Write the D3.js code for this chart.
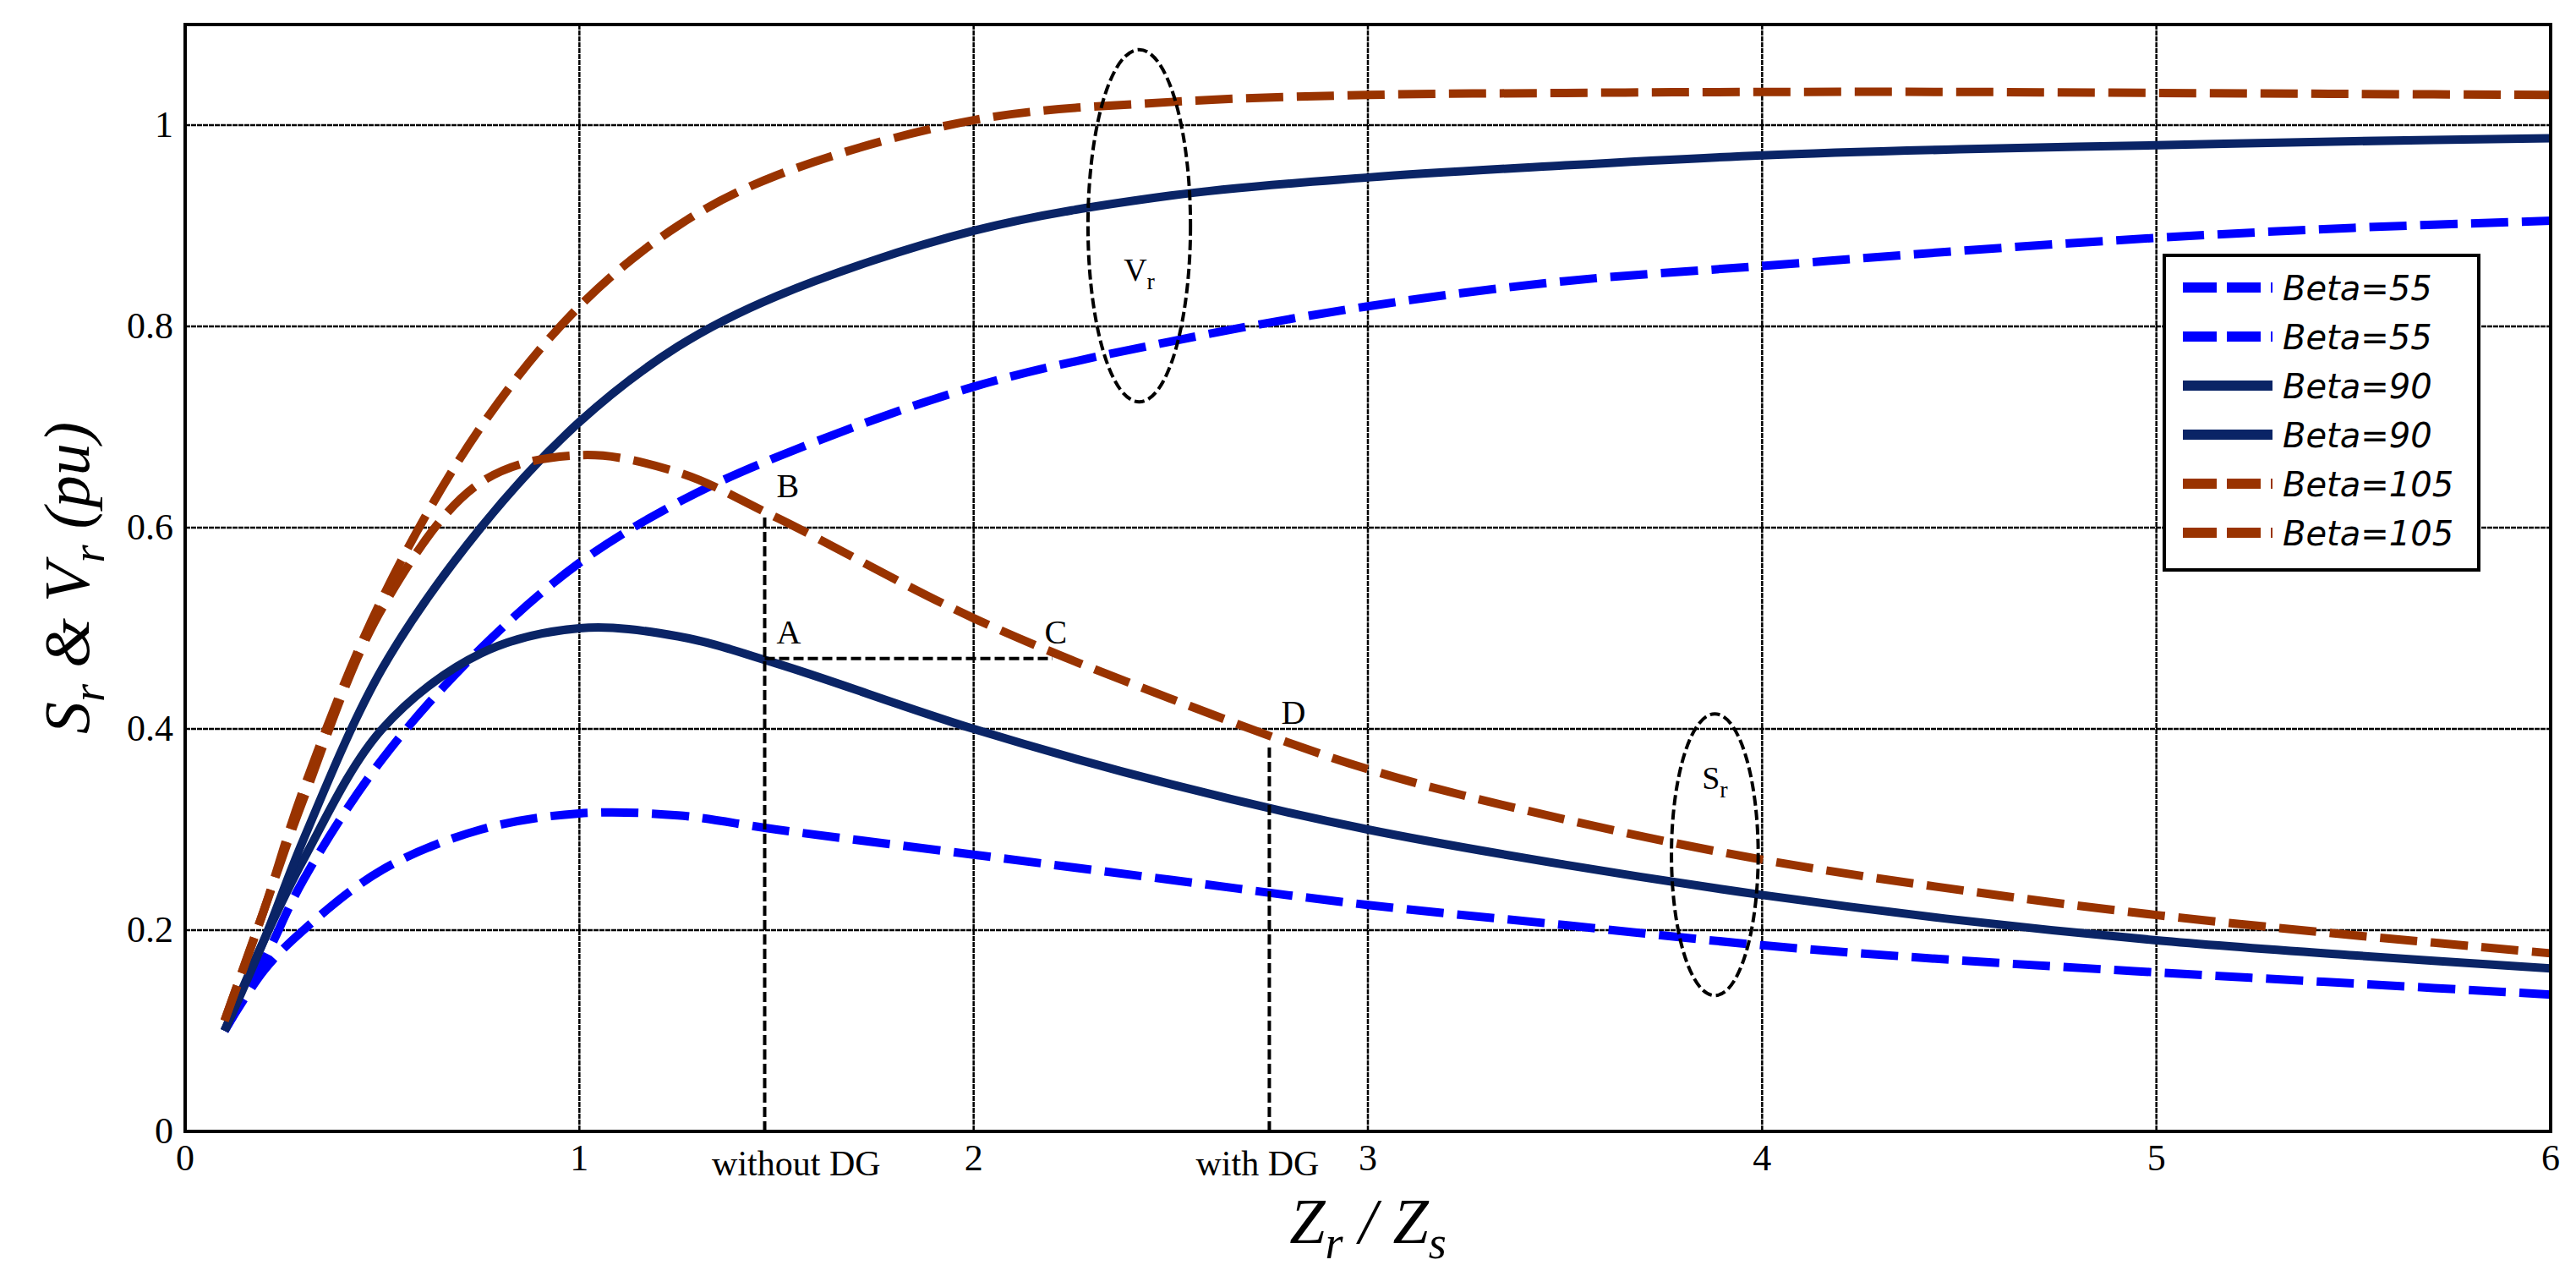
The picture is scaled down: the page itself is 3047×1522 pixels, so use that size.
<!DOCTYPE html>
<html><head><meta charset="utf-8">
<script src="https://cdn.jsdelivr.net/npm/d3@7"></script>
<style>body{margin:0;background:#fff}</style>
</head><body>
<svg id="chart" width="3047" height="1522"></svg>
<script>
// data
const xs = [0.1, 0.2, 0.3, 0.5, 0.75, 1, 1.25, 1.5, 2, 2.5, 3, 3.5, 4, 4.5, 5, 5.5, 6];
const sr55  = [0.10, 0.16, 0.20, 0.26, 0.30, 0.316, 0.314, 0.30, 0.275, 0.25, 0.225, 0.205, 0.185, 0.17, 0.158, 0.147, 0.136];
const vr55  = [0.10, 0.17, 0.25, 0.37, 0.48, 0.565, 0.625, 0.67, 0.74, 0.785, 0.82, 0.845, 0.86, 0.875, 0.888, 0.898, 0.905];
const sr90  = [0.10, 0.19, 0.27, 0.40, 0.475, 0.50, 0.492, 0.465, 0.40, 0.345, 0.30, 0.265, 0.235, 0.21, 0.19, 0.175, 0.162];
const vr90  = [0.10, 0.19, 0.29, 0.46, 0.60, 0.705, 0.78, 0.83, 0.895, 0.93, 0.948, 0.96, 0.97, 0.976, 0.98, 0.984, 0.987];
const sr105 = [0.11, 0.22, 0.33, 0.52, 0.645, 0.672, 0.655, 0.61, 0.51, 0.43, 0.36, 0.31, 0.27, 0.24, 0.215, 0.195, 0.177];
const vr105 = [0.11, 0.22, 0.34, 0.53, 0.70, 0.82, 0.90, 0.95, 1.005, 1.023, 1.03, 1.032, 1.033, 1.033, 1.032, 1.031, 1.03];
const xTicks = [0, 1, 2, 3, 4, 5, 6];
const yTicks = [0, 0.2, 0.4, 0.6, 0.8, 1];
const legendLabels = ['Beta=55', 'Beta=55', 'Beta=90', 'Beta=90', 'Beta=105', 'Beta=105'];

const series = [
  {vals: sr55, color: '#0000ff', dash: '44,16'},
  {vals: vr55, color: '#0000ff', dash: '44,16'},
  {vals: sr90, color: '#0a2466', dash: null},
  {vals: vr90, color: '#0a2466', dash: null},
  {vals: sr105, color: '#993300', dash: '44,16'},
  {vals: vr105, color: '#993300', dash: '44,16'}
];

const m = {l: 219, r: 3017, t: 29, b: 1338};
const svg = d3.select('#chart');
const x = d3.scaleLinear().domain([0, 6]).range([m.l, m.r]);
const y = d3.scaleLinear().domain([0, 1.1]).range([m.b, m.t]);

// grid
svg.append('g').selectAll('line').data(xTicks.slice(1, -1)).join('line')
  .attr('x1', d => x(d)).attr('x2', d => x(d)).attr('y1', m.t).attr('y2', m.b)
  .attr('stroke', '#000').attr('stroke-width', 2.5).attr('stroke-dasharray', '6,1');
svg.append('g').selectAll('line').data(yTicks.slice(1)).join('line')
  .attr('x1', m.l).attr('x2', m.r).attr('y1', d => y(d)).attr('y2', d => y(d))
  .attr('stroke', '#000').attr('stroke-width', 2.5).attr('stroke-dasharray', '6,1');

// curves
const line = d3.line().x((d, i) => x(xs[i])).y(d => y(d)).curve(d3.curveCatmullRom.alpha(0.5));
series.forEach(s => {
  svg.append('path').attr('d', line(s.vals)).attr('fill', 'none')
    .attr('stroke', s.color).attr('stroke-width', 10)
    .attr('stroke-dasharray', s.dash);
});

// annotations
const ann = svg.append('g').attr('stroke', '#000').attr('stroke-width', 4).attr('fill', 'none').attr('stroke-dasharray', '12,5');
ann.append('line').attr('x1', x(1.47)).attr('x2', x(1.47)).attr('y1', y(0)).attr('y2', y(0.61));
ann.append('line').attr('x1', x(1.47)).attr('x2', x(2.2)).attr('y1', y(0.47)).attr('y2', y(0.47));
ann.append('line').attr('x1', x(2.75)).attr('x2', x(2.75)).attr('y1', y(0)).attr('y2', y(0.385));
ann.append('ellipse').attr('cx', x(2.42)).attr('cy', y(0.9)).attr('rx', x(0.13) - x(0)).attr('ry', y(0) - y(0.175));
ann.append('ellipse').attr('cx', x(3.88)).attr('cy', y(0.275)).attr('rx', x(0.11) - x(0)).attr('ry', y(0) - y(0.14));

const tf = 'Liberation Serif, Times New Roman, serif';
const lab = (t, xv, yv) => svg.append('text').attr('x', x(xv)).attr('y', y(yv))
  .attr('font-family', tf).attr('font-size', 40).text(t);
lab('B', 1.5, 0.63); lab('A', 1.5, 0.485); lab('C', 2.18, 0.485); lab('D', 2.78, 0.405);
const sub = (t, s, xv, yv) => {
  const tx = svg.append('text').attr('x', x(xv)).attr('y', y(yv)).attr('font-family', tf)
    .attr('font-size', 38).attr('text-anchor', 'middle');
  tx.append('tspan').text(t);
  tx.append('tspan').attr('font-size', 28).attr('dy', 10).text(s);
};
sub('V', 'r', 2.42, 0.845); sub('S', 'r', 3.88, 0.34);

// tick labels
svg.append('g').selectAll('text').data(xTicks).join('text')
  .attr('x', d => x(d)).attr('y', m.b + 46).attr('text-anchor', 'middle')
  .attr('font-family', tf).attr('font-size', 44).text(d => d);
svg.append('g').selectAll('text').data(yTicks).join('text')
  .attr('x', m.l - 14).attr('y', d => y(d) + 14).attr('text-anchor', 'end')
  .attr('font-family', tf).attr('font-size', 44).text(d => d);
svg.append('text').attr('x', x(1.55)).attr('y', m.b + 52).attr('text-anchor', 'middle')
  .attr('font-family', tf).attr('font-size', 42).text('without DG');
svg.append('text').attr('x', x(2.72)).attr('y', m.b + 52).attr('text-anchor', 'middle')
  .attr('font-family', tf).attr('font-size', 42).text('with DG');

// frame
svg.append('rect').attr('x', m.l).attr('y', m.t).attr('width', m.r - m.l).attr('height', m.b - m.t)
  .attr('fill', 'none').attr('stroke', '#000').attr('stroke-width', 4);

// axis titles
const xt = svg.append('text').attr('x', (m.l + m.r) / 2).attr('y', 1470).attr('text-anchor', 'middle')
  .attr('font-family', tf).attr('font-style', 'italic').attr('font-size', 76);
xt.append('tspan').text('Z');
xt.append('tspan').attr('font-size', 54).attr('dy', 18).text('r');
xt.append('tspan').attr('dy', -18).text(' / Z');
xt.append('tspan').attr('font-size', 54).attr('dy', 18).text('s');
const yt = svg.append('text').attr('transform', `translate(105,${(m.t + m.b) / 2}) rotate(-90)`)
  .attr('text-anchor', 'middle').attr('font-family', tf).attr('font-style', 'italic').attr('font-size', 76);
yt.append('tspan').text('S');
yt.append('tspan').attr('font-size', 54).attr('dy', 18).text('r');
yt.append('tspan').attr('dy', -18).text(' & V');
yt.append('tspan').attr('font-size', 54).attr('dy', 18).text('r');
yt.append('tspan').attr('dy', -18).text(' (pu)');

// legend
const lg = svg.append('g').attr('transform', 'translate(2560,302)');
lg.append('rect').attr('width', 372).attr('height', 372).attr('fill', '#fff').attr('stroke', '#000').attr('stroke-width', 4);
series.forEach((s, i) => {
  const yy = 38 + i * 58;
  lg.append('line').attr('x1', 22).attr('x2', 128).attr('y1', yy).attr('y2', yy)
    .attr('stroke', s.color).attr('stroke-width', 12).attr('stroke-dasharray', s.dash ? '40,12' : null);
  lg.append('text').attr('x', 140).attr('y', yy + 15).attr('font-family', 'DejaVu Sans')
    .attr('font-style', 'italic').attr('font-size', 40).text(legendLabels[i]);
});
</script>
</body></html>
